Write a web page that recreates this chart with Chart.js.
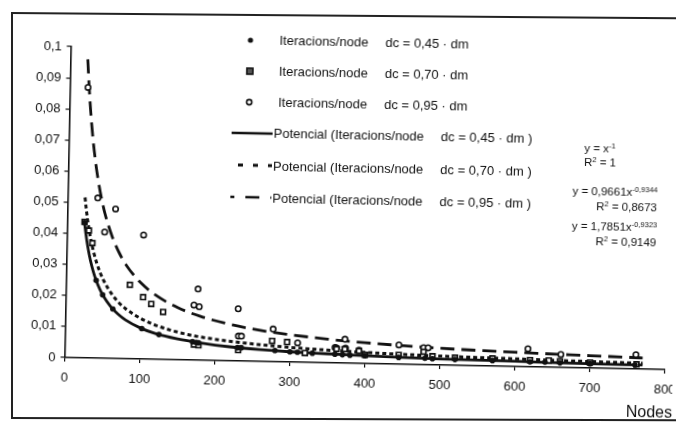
<!DOCTYPE html>
<html>
<head>
<meta charset="utf-8">
<script src="https://cdn.jsdelivr.net/npm/chart.js@4.4.1/dist/chart.umd.min.js"></script>
<style>
  html, body { margin: 0; padding: 0; background: #fff; overflow: hidden; }
  body { width: 676px; height: 430px; font-family: "Liberation Sans", Arial, sans-serif; color: #111; }
  #root { position: relative; width: 676px; height: 430px; overflow: hidden; background: #fff; }
  .fr { position: absolute; background: #222; }
  #wrap { position: absolute; left: 0; top: 0; width: 676px; height: 430px; transform: rotate(1.15deg); transform-origin: 338px 215px; }
  #c { position: absolute; left: 0; top: 0; }
  .lg { position: absolute; font-size: 13px; white-space: nowrap; line-height: 14px; }
  .lg .gap { display: inline-block; width: 17px; }
  .mk { position: absolute; }
  .eq { position: absolute; font-size: 11.5px; white-space: nowrap; line-height: 12px; }
  .eq sup { font-size: 7.5px; vertical-align: 4px; line-height: 0; }
  #nodes { position: absolute; font-size: 16px; right: 0px; top: 397px; }
</style>
</head>
<body>
<div id="root">
<div class="fr" style="left:11px;top:12px;width:670px;height:1.6px;transform:rotate(0.45deg);transform-origin:0 0"></div>
<div class="fr" style="left:11px;top:12px;width:1.6px;height:406px"></div>
<div class="fr" style="left:11px;top:417px;width:670px;height:1.6px;transform:rotate(0.2deg);transform-origin:0 0"></div>
<div id="wrap">
  <canvas id="c" width="676" height="430"></canvas>
  <svg class="mk" style="left:230px;top:30px" width="50" height="190">
    <circle cx="17" cy="12" r="2.6" fill="#111"/>
    <rect x="14" y="40" width="6" height="6" fill="#555" stroke="#111" stroke-width="1.6"/>
    <circle cx="17" cy="74" r="2.6" fill="#fff" stroke="#111" stroke-width="1.6"/>
    <line x1="-10" y1="105" x2="41" y2="105" stroke="#111" stroke-width="2.6"/>
    <line x1="-8" y1="137" x2="41" y2="137" stroke="#111" stroke-width="3" stroke-dasharray="5 10"/>
    <line x1="-10" y1="169" x2="41" y2="169" stroke="#111" stroke-width="2.6" stroke-dasharray="14 11"/>
  </svg>
  <div class="lg" style="left:276px;top:35px">Iteracions/node<span class="gap"></span>dc = 0,45 · dm</div>
  <div class="lg" style="left:276px;top:66px">Iteracions/node<span class="gap"></span>dc = 0,70 · dm</div>
  <div class="lg" style="left:276px;top:97px">Iteracions/node<span class="gap"></span>dc = 0,95 · dm</div>
  <div class="lg" style="left:272px;top:128px">Potencial (Iteracions/node<span class="gap"></span>dc = 0,45 · dm )</div>
  <div class="lg" style="left:272px;top:161px">Potencial (Iteracions/node<span class="gap"></span>dc = 0,70 · dm )</div>
  <div class="lg" style="left:272px;top:193px">Potencial (Iteracions/node<span class="gap"></span>dc = 0,95 · dm )</div>
  <div class="eq" style="left:583px;top:137px">y = x<sup>-1</sup></div>
  <div class="eq" style="left:583px;top:151px">R<sup>2</sup> = 1</div>
  <div class="eq" style="left:572px;top:180px">y = 0,9661x<sup>-0,9344</sup></div>
  <div class="eq" style="left:596px;top:195px">R<sup>2</sup> = 0,8673</div>
  <div class="eq" style="left:572px;top:215px">y = 1,7851x<sup>-0,9323</sup></div>
  <div class="eq" style="left:596px;top:230px">R<sup>2</sup> = 0,9149</div>
  <div id="nodes">Nodes</div>
</div>
</div>
<script>
// ---- data ----
const xTickLabels = ['0','100','200','300','400','500','600','700','800'];
const yTickLabels = ['0','0,01','0,02','0,03','0,04','0,05','0,06','0,07','0,08','0,09','0,1'];

const nodes45 = [23, 40, 49, 63, 102, 125, 170, 175, 178, 230, 235, 280, 300, 310, 330, 360, 370, 380, 400, 445, 480, 490, 520, 570, 620, 640, 660, 700, 760];
const iter45  = [0.0435, 0.025, 0.0204, 0.0159, 0.0098, 0.008, 0.0059, 0.0057, 0.0056, 0.0043, 0.0043, 0.0036, 0.0033, 0.0032, 0.003, 0.0028, 0.0027, 0.0026, 0.0025, 0.0022, 0.0021, 0.002, 0.0019, 0.0018, 0.0016, 0.0016, 0.0015, 0.0014, 0.0013];

const nodes70 = [23, 29, 34, 85, 103, 114, 130, 172, 178, 231, 276, 296, 320, 362, 373, 392, 400, 445, 478, 490, 520, 570, 620, 645, 660, 700, 762];
const iter70  = [0.0437, 0.041, 0.037, 0.0238, 0.0199, 0.0178, 0.0153, 0.005, 0.0048, 0.0035, 0.0067, 0.0064, 0.003, 0.0045, 0.0045, 0.004, 0.0028, 0.003, 0.0042, 0.0028, 0.0025, 0.0025, 0.0022, 0.0022, 0.002, 0.0018, 0.0015];

const nodes95 = [24, 40, 50, 64, 102, 171, 176, 178, 230, 231, 235, 277, 310, 360, 362, 373, 374, 392, 445, 478, 484, 617, 661, 761];
const iter95  = [0.087, 0.0515, 0.0406, 0.0481, 0.0399, 0.0177, 0.0229, 0.0172, 0.0168, 0.008, 0.008, 0.0105, 0.0062, 0.005, 0.0048, 0.0077, 0.0048, 0.0043, 0.0062, 0.0055, 0.0055, 0.0058, 0.0042, 0.0046];

// trend curves (Potencial)
const curveNodes = [23, 25, 28, 32, 36, 40, 45, 50, 60, 70, 80, 100, 120, 150, 180, 220, 260, 300, 350, 400, 450, 500, 600, 700, 770];
const fit45 = [0.0435, 0.04, 0.0357, 0.03125, 0.0278, 0.025, 0.0222, 0.02, 0.0167, 0.0143, 0.0125, 0.01, 0.0083, 0.0067, 0.0056, 0.0045, 0.0038, 0.0033, 0.0029, 0.0025, 0.0022, 0.002, 0.0017, 0.0014, 0.0013];
const fit70 = [0.0516, 0.0477, 0.0429, 0.0379, 0.034, 0.0308, 0.0276, 0.025, 0.0211, 0.0182, 0.0161, 0.0131, 0.011, 0.0089, 0.0075, 0.0063, 0.0054, 0.0047, 0.0041, 0.0036, 0.0032, 0.0029, 0.0025, 0.0021, 0.0019];
const fit95 = [0.096, 0.0888, 0.0799, 0.0705, 0.0632, 0.0573, 0.0513, 0.0465, 0.0393, 0.034, 0.03, 0.0244, 0.0206, 0.0167, 0.0141, 0.0117, 0.01, 0.0088, 0.0076, 0.0067, 0.006, 0.0054, 0.0046, 0.004, 0.0036];

const pts = (xs, ys) => xs.map((x, i) => ({ x: x, y: ys[i] }));

const INK = '#111';
const lineBase = { showLine: true, pointRadius: 0, borderColor: INK, fill: false, cubicInterpolationMode: 'monotone', order: 2 };

new Chart(document.getElementById('c'), {
  type: 'scatter',
  data: {
    datasets: [
      Object.assign({}, lineBase, { label: 'Potencial 0,45', data: pts(curveNodes, fit45), borderWidth: 2.8 }),
      Object.assign({}, lineBase, { label: 'Potencial 0,70', data: pts(curveNodes, fit70), borderWidth: 3, borderDash: [4, 3] }),
      Object.assign({}, lineBase, { label: 'Potencial 0,95', data: pts(curveNodes, fit95), borderWidth: 2.8, borderDash: [14, 7] }),
      { label: 'dc 0,45', data: pts(nodes45, iter45), pointStyle: 'circle', pointRadius: 2.8, backgroundColor: INK, borderColor: INK, borderWidth: 0, order: 1 },
      { label: 'dc 0,70', data: pts(nodes70, iter70), pointStyle: 'rect', pointRadius: 3.4, backgroundColor: '#fff', borderColor: INK, borderWidth: 1.7, order: 1 },
      { label: 'dc 0,95', data: pts(nodes95, iter95), pointStyle: 'circle', pointRadius: 2.7, backgroundColor: '#fff', borderColor: INK, borderWidth: 1.6, order: 1 }
    ]
  },
  options: {
    responsive: false,
    animation: false,
    events: [],
    layout: { autoPadding: false, padding: { left: 0, right: 8, top: 52, bottom: 0 } },
    plugins: { legend: { display: false }, tooltip: { enabled: false } },
    scales: {
      x: {
        type: 'linear', min: 0, max: 800,
        afterFit: s => { s.height = 67; s.paddingLeft = 0; s.paddingRight = 0; },
        border: { display: true, color: INK, width: 1.6 },
        grid: { display: true, drawOnChartArea: false, drawTicks: true, tickLength: 4, color: INK, lineWidth: 1.2 },
        ticks: { stepSize: 100, padding: 9, color: INK, font: { family: 'Liberation Sans', size: 13 }, callback: (v, i) => xTickLabels[i] }
      },
      y: {
        type: 'linear', min: 0, max: 0.1,
        afterFit: s => { s.width = 67.5; s.paddingTop = 0; s.paddingBottom = 0; },
        border: { display: true, color: INK, width: 1.6 },
        grid: { display: true, drawOnChartArea: false, drawTicks: true, tickLength: 4, color: INK, lineWidth: 1.2 },
        ticks: { stepSize: 0.01, padding: 5, color: INK, font: { family: 'Liberation Sans', size: 13 }, callback: (v, i) => yTickLabels[i] }
      }
    }
  }
});
</script>
</body>
</html>
